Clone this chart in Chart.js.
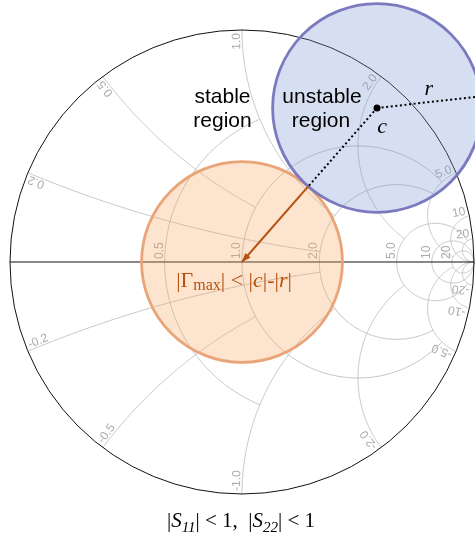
<!DOCTYPE html>
<html>
<head>
<meta charset="utf-8">
<script src="https://cdn.jsdelivr.net/npm/chart.js@4/dist/chart.umd.min.js"></script>
<style>html,body{margin:0;padding:0;background:#fff;overflow:hidden}canvas{display:block}</style>
</head>
<body>
<canvas id="smith" width="475" height="540"></canvas>
<script>
// Smith chart grid: normalized impedance z = r + jx
const resistanceTicks = [0.5, 1, 2, 5, 10, 20];
const resistanceReach = [1, 5, 5, 20, Infinity, Infinity];      // each r-circle runs for |x| up to this
const reactanceTicks  = [0.2, 0.5, 1, 2, 5, 10, 20];
const reactanceReach  = [2, 1, 2, 5, 20, Infinity, Infinity];   // each x-arc runs for r up to this

// output stability circle in the reflection plane
const stabilityCenter = [0.582, 0.664];   // c
const stabilityRadius = [0.450];          // |r|
const radiusAngleDeg  = [6.4];            // direction of the drawn radius r

const gridColor = '#bdbdbd';
const gridLabelColor = '#ababab';
const gainColor = '#b8520f';

function gamma(r, x) {                    // reflection coefficient (z-1)/(z+1)
  if (!isFinite(r) || !isFinite(x)) return [1, 0];
  const a = r - 1, c = r + 1, D = c * c + x * x;
  return [(a * c + x * x) / D, (2 * x) / D];
}
const norm = a => ((a % (2 * Math.PI)) + 2 * Math.PI) % (2 * Math.PI);
const fmt = v => (Math.abs(v) >= 10 ? String(Math.abs(v)) : Math.abs(v).toFixed(1));

const cAbs = Math.hypot(stabilityCenter[0], stabilityCenter[1]);
const k = (cAbs - stabilityRadius[0]) / cAbs;
const nearPoint = { x: stabilityCenter[0] * k, y: stabilityCenter[1] * k };
const phi = radiusAngleDeg[0] * Math.PI / 180;
const radiusEnd = {
  x: stabilityCenter[0] + stabilityRadius[0] * Math.cos(phi),
  y: stabilityCenter[1] + stabilityRadius[0] * Math.sin(phi)
};
const cPoint = { x: stabilityCenter[0], y: stabilityCenter[1] };

function arcPath(ctx, sx, sy, cx, cy, R, a0, a1) {
  const n = 240;
  ctx.beginPath();
  for (let i = 0; i <= n; i++) {
    const a = a0 + (a1 - a0) * i / n;
    const px = sx.getPixelForValue(cx + R * Math.cos(a));
    const py = sy.getPixelForValue(cy + R * Math.sin(a));
    if (i) ctx.lineTo(px, py); else ctx.moveTo(px, py);
  }
  ctx.stroke();
}

function drawRuns(ctx, runs, cx, baseY, color) {
  let w = 0;
  runs.forEach(s => { ctx.font = s.f; w += ctx.measureText(s.t).width + (s.gap || 0); });
  let x = cx - w / 2;
  ctx.fillStyle = color;
  ctx.textAlign = 'left';
  ctx.textBaseline = 'alphabetic';
  runs.forEach(s => {
    ctx.font = s.f;
    ctx.fillText(s.t, x, baseY + (s.dy || 0));
    x += ctx.measureText(s.t).width + (s.gap || 0);
  });
}

const smithPlugin = {
  id: 'smith',
  beforeDatasetsDraw(chart) {
    const { ctx, scales: { x: sx, y: sy } } = chart;
    const P = (u, v) => [sx.getPixelForValue(u), sy.getPixelForValue(v)];
    const unit = sx.getPixelForValue(1) - sx.getPixelForValue(0);
    const O = P(0, 0);
    ctx.save();

    // grid: constant-resistance circles
    ctx.lineWidth = 0.9;
    ctx.strokeStyle = gridColor;
    resistanceTicks.forEach((r, i) => {
      const cx = r / (1 + r), R = 1 / (1 + r);
      const g = gamma(r, resistanceReach[i]);
      const t1 = norm(Math.atan2(g[1], g[0] - cx));
      arcPath(ctx, sx, sy, cx, 0, R, t1, 2 * Math.PI - t1);
    });
    // grid: constant-reactance arcs
    reactanceTicks.forEach((xv, i) => {
      [xv, -xv].forEach(x => {
        const cy = 1 / x, R = Math.abs(1 / x);
        const g0 = gamma(0, x), g1 = gamma(reactanceReach[i], x);
        const a0 = norm(Math.atan2(g0[1] - cy, g0[0] - 1));
        const a1 = norm(Math.atan2(g1[1] - cy, g1[0] - 1));
        arcPath(ctx, sx, sy, 1, cy, R, a0, a1);
      });
    });

    // outer circle and real axis
    ctx.strokeStyle = '#111';
    ctx.lineWidth = 1;
    ctx.beginPath();
    ctx.arc(O[0], O[1], unit, 0, 2 * Math.PI);
    ctx.stroke();
    const L = P(-1, 0), Rr = P(1, 0);
    ctx.beginPath();
    ctx.moveTo(L[0], L[1]);
    ctx.lineTo(Rr[0], Rr[1]);
    ctx.stroke();

    // grid labels
    ctx.font = '12px "Liberation Sans", Arial, sans-serif';
    ctx.fillStyle = gridLabelColor;
    ctx.textBaseline = 'alphabetic';
    resistanceTicks.forEach(r => {
      const p = P((r - 1) / (r + 1), 0);
      ctx.save();
      ctx.translate(p[0] - 2, p[1] - 3);
      ctx.rotate(-Math.PI / 2);
      ctx.textAlign = 'left';
      ctx.fillText(fmt(r), 0, 0);
      ctx.restore();
    });
    reactanceTicks.forEach(xv => {
      [xv, -xv].forEach(x => {
        const E = P(...gamma(0, x)), Q = P(...gamma(0.02, x));
        let dx = E[0] - Q[0], dy = E[1] - Q[1];
        const l = Math.hypot(dx, dy); dx /= l; dy /= l;
        ctx.save();
        ctx.translate(E[0], E[1]);
        if (x > 0) {
          ctx.rotate(Math.atan2(dy, dx));
          ctx.textAlign = 'right';
          ctx.fillText(fmt(x), -3, -2);
        } else {
          ctx.rotate(Math.atan2(-dy, -dx));
          ctx.textAlign = 'left';
          ctx.fillText('-' + fmt(x), 3, -2);
        }
        ctx.restore();
      });
    });

    // gain circle |Γ| < |c| - |r|
    ctx.beginPath();
    ctx.arc(O[0], O[1], (cAbs - stabilityRadius[0]) * unit, 0, 2 * Math.PI);
    ctx.fillStyle = 'rgba(244,164,96,0.30)';
    ctx.fill();
    ctx.lineWidth = 2.8;
    ctx.strokeStyle = '#e9a477';
    ctx.stroke();

    // stability circle (unstable region)
    const C = P(stabilityCenter[0], stabilityCenter[1]);
    ctx.beginPath();
    ctx.arc(C[0], C[1], stabilityRadius[0] * unit, 0, 2 * Math.PI);
    ctx.fillStyle = 'rgba(120,150,210,0.30)';
    ctx.fill();
    ctx.lineWidth = 2.8;
    ctx.strokeStyle = '#7c79bf';
    ctx.stroke();
    ctx.restore();
  },
  afterDatasetsDraw(chart) {
    const { ctx, scales: { x: sx, y: sy } } = chart;
    const P = (u, v) => [sx.getPixelForValue(u), sy.getPixelForValue(v)];
    const O = P(0, 0), B = P(nearPoint.x, nearPoint.y), C = P(cPoint.x, cPoint.y);
    const M = P((cPoint.x + radiusEnd.x) / 2, (cPoint.y + radiusEnd.y) / 2);
    ctx.save();

    // arrow head at the origin
    let ux = O[0] - B[0], uy = O[1] - B[1];
    const l = Math.hypot(ux, uy); ux /= l; uy /= l;
    ctx.fillStyle = gainColor;
    ctx.beginPath();
    ctx.moveTo(O[0], O[1]);
    ctx.lineTo(O[0] - ux * 9 - uy * 3.5, O[1] - uy * 9 + ux * 3.5);
    ctx.lineTo(O[0] - ux * 9 + uy * 3.5, O[1] - uy * 9 - ux * 3.5);
    ctx.closePath();
    ctx.fill();

    // region labels
    ctx.fillStyle = '#000';
    ctx.font = '21px "Liberation Sans", Arial, sans-serif';
    ctx.textAlign = 'center';
    ctx.textBaseline = 'alphabetic';
    ctx.fillText('stable', 222.5, 103);
    ctx.fillText('region', 222.5, 127);
    ctx.fillText('unstable', 322, 103);
    ctx.fillText('region', 321, 127);

    // c and r symbols
    ctx.font = 'italic 22px "Liberation Serif", "Times New Roman", serif';
    ctx.fillText('c', C[0] + 5, C[1] + 25);
    ctx.fillText('r', M[0], M[1] - 7);

    // |Γmax| < |c|-|r|
    const serif = 'px "Liberation Serif", "Times New Roman", serif';
    drawRuns(ctx, [
      { t: '|Γ', f: '22' + serif },
      { t: 'max', f: '16' + serif, dy: 3 },
      { t: '| < |', f: '22' + serif },
      { t: 'c', f: 'italic 22' + serif },
      { t: '|-|', f: '22' + serif },
      { t: 'r', f: 'italic 22' + serif },
      { t: '|', f: '22' + serif }
    ], O[0] - 8, O[1] + 25, gainColor);

    // stability condition
    drawRuns(ctx, [
      { t: '|', f: '21' + serif },
      { t: 'S', f: 'italic 21' + serif },
      { t: '11', f: 'italic 15' + serif, dy: 5 },
      { t: '| < 1,  |', f: '21' + serif },
      { t: 'S', f: 'italic 21' + serif },
      { t: '22', f: 'italic 15' + serif, dy: 5 },
      { t: '| < 1', f: '21' + serif }
    ], 241, 527, '#000');
    ctx.restore();
  }
};

new Chart(document.getElementById('smith'), {
  type: 'scatter',
  data: {
    datasets: [
      { data: [cPoint, nearPoint], showLine: true, borderColor: '#000', borderWidth: 2,
        borderDash: [2, 2.6], pointRadius: 0 },
      { data: [cPoint, radiusEnd], showLine: true, borderColor: '#000', borderWidth: 2,
        borderDash: [2, 2.6], pointRadius: 0 },
      { data: [nearPoint, { x: 0, y: 0 }], showLine: true, borderColor: gainColor, borderWidth: 2,
        pointRadius: 0 },
      { data: [cPoint], pointRadius: 3.5, backgroundColor: '#000', borderWidth: 0 }
    ]
  },
  options: {
    responsive: false,
    animation: false,
    events: [],
    layout: { padding: 0, autoPadding: false },
    plugins: { legend: { display: false }, tooltip: { enabled: false } },
    scales: {
      x: { type: 'linear', display: false, min: -1.0431, max: 1.0043 },
      y: { type: 'linear', display: false, min: -1.1983, max: 1.1293 }
    }
  },
  plugins: [smithPlugin]
});
</script>
</body>
</html>
